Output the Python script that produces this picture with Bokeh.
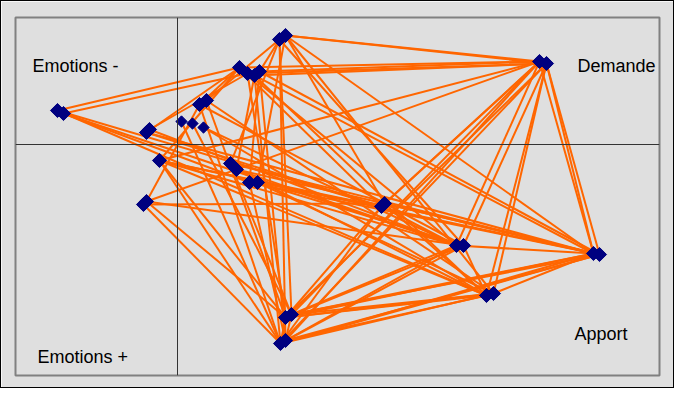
import math
from bokeh.plotting import figure
from bokeh.models import Range1d, Span, ColumnDataSource, Label
from bokeh.embed import file_html
from bokeh.resources import INLINE

# ---- data ----
node_names = ["A1", "A2", "B1", "B2", "C1", "C2", "C3", "C4", "D1", "D2",
              "E1", "E2", "F1", "G1", "G2", "S4", "S5", "H1", "H2", "I1", "I2",
              "J1", "J2", "K1", "K2", "L1", "L2", "M1", "M2", "N1", "N2", "O1", "O2"]
node_x = [-1.20, -1.14, 1.02, 1.08, 0.62, 0.70, 0.77, 0.82, 3.62, 3.69,
          -0.31, -0.28, -0.18, -0.34, -0.31, 0.22, 0.29, 0.53, 0.59, 0.72, 0.80,
          2.04, 2.07, 2.79, 2.86, 4.16, 4.22, 3.09, 3.16, 1.08, 1.14, 1.03, 1.08]
node_y = [0.34, 0.31, 1.05, 1.09, 0.77, 0.71, 0.69, 0.73, 0.83, 0.81,
          0.12, 0.15, -0.16, -0.60, -0.57, 0.40, 0.44, -0.19, -0.25, -0.38, -0.38,
          -0.62, -0.59, -1.01, -1.01, -1.09, -1.10, -1.51, -1.49, -1.73, -1.70, -1.99, -1.96]

small_names = ["S1", "S2", "S3"]
small_x = [0.04, 0.15, 0.26]
small_y = [0.23, 0.21, 0.17]

edge_from = ["A1", "A2", "A1", "A2", "A1", "A2",
             "B1", "B2", "B2", "B1", "B1", "B2", "B1", "B2", "B2", "B1", "B1", "B2",
             "C1", "C3", "C4", "C2", "C3", "C4", "C1", "C2", "C3", "C4", "C2", "C1", "C1", "C4", "C1", "C3",
             "C2", "C1",
             "D1", "D1", "D1", "D2", "D1", "D2", "D2", "D1", "D2", "D2", "D1", "D1", "D2",
             "D2", "D1",
             "E1", "E2", "E1",
             "F1", "F1", "F1", "F1", "F1", "F1",
             "G1", "G2", "G1", "G2", "G2",
             "S4", "S5", "S5", "S4",
             "S1", "S2", "S3", "S3",
             "H1", "H2", "H2", "H1", "H2",
             "I1", "I2", "I2", "I1", "I2",
             "J1", "J2", "J2", "J1", "J1", "J2",
             "K1", "K2", "K1", "K1", "K2", "K2",
             "L1", "L1", "L2", "L1", "L2", "L2", "L1",
             "M1", "M2", "M1", "M2", "M2",
             "N1", "N2"]
edge_to = ["C1", "C2", "J1", "K1", "M1", "I1",
           "C4", "D1", "D2", "O2", "N2", "J2", "K2", "M2", "L1", "S5", "H1", "I2",
           "D1", "D2", "D1", "N1", "O1", "O2", "J1", "K1", "M1", "L2", "E2", "F1", "S4", "I1", "E1", "H2",
           "D2", "L1",
           "F1", "G2", "J2", "K2", "K1", "M1", "M2", "L1", "L2", "L1", "N2", "O2", "O1",
           "N1", "J1",
           "J1", "K1", "L1",
           "J1", "K1", "L2", "M1", "N1", "O1",
           "J2", "K2", "O1", "N1", "S4",
           "K2", "M2", "N1", "O1",
           "O1", "N2", "M1", "K1",
           "L1", "K1", "M1", "N2", "J2",
           "L2", "K2", "M2", "O2", "J1",
           "K1", "L1", "M1", "N1", "O1", "L2",
           "L1", "M1", "N2", "O2", "O1", "N1",
           "M2", "N1", "N2", "O1", "O2", "O1", "N2",
           "N1", "N2", "O2", "O1", "N1",
           "O1", "O2"]

quadrant_labels = ["Emotions -", "Demande", "Emotions +", "Apport"]
label_x = [-1.45, 4.00, -1.40, 3.97]
label_y = [0.79, 0.79, -2.12, -1.89]

# ---- build ----
pos = {n: (x, y) for n, x, y in zip(node_names, node_x, node_y)}
pos.update({n: (x, y) for n, x, y in zip(small_names, small_x, small_y)})

seg = ColumnDataSource(dict(
    x0=[pos[a][0] for a in edge_from], y0=[pos[a][1] for a in edge_from],
    x1=[pos[b][0] for b in edge_to], y1=[pos[b][1] for b in edge_to]))

p = figure(width=672, height=386, output_backend="svg", toolbar_location=None,
           x_axis_type=None, y_axis_type=None,
           x_range=Range1d(-1.62, 4.82), y_range=Range1d(-2.31, 1.27),
           frame_width=644, frame_height=358,
           min_border_left=14, min_border_top=16, min_border_right=14, min_border_bottom=12)
p.background_fill_color = "#dfdfdf"
p.border_fill_color = "#dfdfdf"
p.outline_line_color = "#808080"
p.outline_line_width = 2
p.grid.visible = False
p.styles = {"border": "1px solid black"}

p.add_layout(Span(location=0, dimension="height", line_color="#333333", line_width=1))
p.add_layout(Span(location=0, dimension="width", line_color="#333333", line_width=1))

p.segment("x0", "y0", "x1", "y1", source=seg, line_color="#FF6600", line_width=2)
p.scatter(node_x, node_y, marker="square", size=10, angle=math.pi / 4,
          fill_color="#000080", line_color="#000080")
p.scatter(small_x, small_y, marker="square", size=8, angle=math.pi / 4,
          fill_color="#000080", line_color="#000080")

for t, x, y in zip(quadrant_labels, label_x, label_y):
    p.add_layout(Label(x=x, y=y, text=t, text_font="Liberation Sans", text_font_size="18px",
                       text_color="#000000", text_baseline="alphabetic"))

open("out.html", "w").write(file_html(p, INLINE))
